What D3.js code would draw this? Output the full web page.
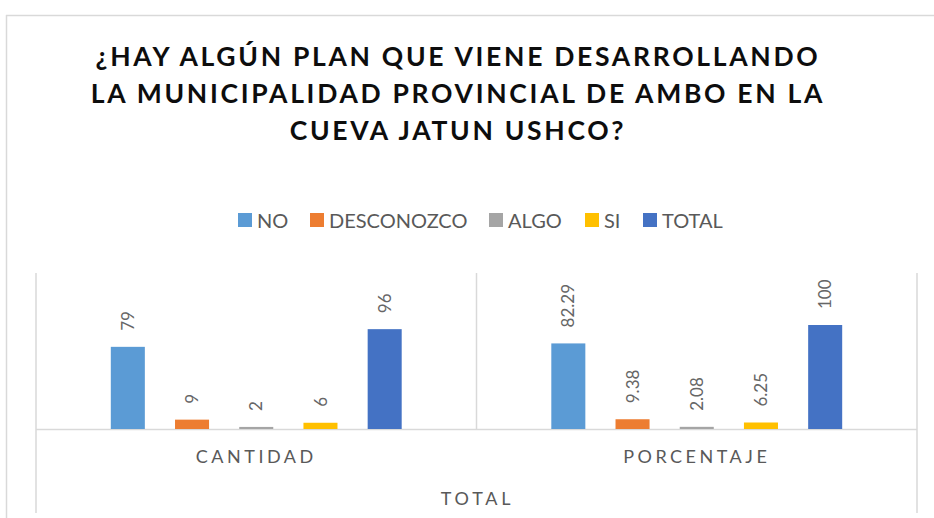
<!DOCTYPE html>
<html>
<head>
<meta charset="utf-8">
<script src="https://cdn.jsdelivr.net/npm/d3@7/dist/d3.min.js"></script>
<style>
  html, body { margin: 0; padding: 0; background: #fff; }
  svg { display: block; font-family: Lato, "Open Sans", sans-serif; }
</style>
</head>
<body>
<div id="chart"></div>
<script>
// Data
var categories = ["CANTIDAD", "PORCENTAJE"];
var seriesNames = ["NO", "DESCONOZCO", "ALGO", "SI", "TOTAL"];
var cantidad = [79, 9, 2, 6, 96];
var porcentaje = [82.29, 9.38, 2.08, 6.25, 100];
var seriesColors = ["#5B9BD5", "#ED7D31", "#A5A5A5", "#FFC000", "#4472C4"];
var titleLines = [
  "¿HAY ALGÚN PLAN QUE VIENE DESARROLLANDO",
  "LA MUNICIPALIDAD PROVINCIAL DE AMBO EN LA",
  "CUEVA JATUN USHCO?"
];
var axisTitle = "TOTAL";

var values = [cantidad, porcentaje];

// Sizes
var width = 934, height = 518;
var plot = {left: 36, right: 917, top: 273, bottom: 429};
var gridColor = "#d9d9d9";
var textColor = "#595959";

var svg = d3.select("#chart").append("svg")
  .attr("width", width)
  .attr("height", height);

// chart frame (only top and left edges are visible)
svg.append("line").attr("x1", 6).attr("x2", width).attr("y1", 15.5).attr("y2", 15.5)
  .attr("stroke", gridColor).attr("stroke-width", 1.5);
svg.append("line").attr("x1", 6.5).attr("x2", 6.5).attr("y1", 15).attr("y2", height)
  .attr("stroke", gridColor).attr("stroke-width", 1.5);

// --- title ---
svg.append("g").selectAll("text")
  .data(titleLines)
  .join("text")
  .attr("x", 458)
  .attr("y", function(d, i) { return 66 + i * 37; })
  .attr("text-anchor", "middle")
  .attr("font-size", 26.5)
  .attr("font-weight", "bold")
  .attr("letter-spacing", 2.7)
  .attr("fill", "#0d0d0d")
  .text(function(d) { return d; });

// --- scales ---
var x0 = d3.scaleBand()
  .domain(categories)
  .range([plot.left, plot.right]);

var x1 = d3.scaleBand()
  .domain(seriesNames)
  .range([0, x0.bandwidth()])
  .paddingInner(0.47)
  .paddingOuter(1.165);

var y = d3.scaleLinear()
  .domain([0, 150])
  .range([plot.bottom, plot.top]);

var color = d3.scaleOrdinal().domain(seriesNames).range(seriesColors);

// --- grid / axis lines ---
var lines = svg.append("g").attr("stroke", gridColor).attr("stroke-width", 1.5);
lines.append("line")
  .attr("x1", plot.left).attr("x2", plot.right)
  .attr("y1", y(0) + 0.5).attr("y2", y(0) + 0.5);
lines.append("line")
  .attr("x1", plot.left).attr("x2", plot.left)
  .attr("y1", plot.top).attr("y2", 513);
lines.append("line")
  .attr("x1", plot.right).attr("x2", plot.right)
  .attr("y1", plot.top).attr("y2", 513);
lines.append("line")
  .attr("x1", x0(categories[1])).attr("x2", x0(categories[1]))
  .attr("y1", plot.top).attr("y2", y(0));

// --- bars ---
var groups = svg.append("g").selectAll("g")
  .data(categories)
  .join("g")
  .attr("transform", function(d) { return "translate(" + x0(d) + ",0)"; });

groups.selectAll("rect")
  .data(function(d, ci) {
    return seriesNames.map(function(s, si) { return {name: s, value: values[ci][si]}; });
  })
  .join("rect")
  .attr("x", function(d) { return x1(d.name); })
  .attr("y", function(d) { return y(d.value); })
  .attr("width", x1.bandwidth())
  .attr("height", function(d) { return y(0) - y(d.value); })
  .attr("fill", function(d) { return color(d.name); });

// data labels, rotated
groups.selectAll("text.lbl")
  .data(function(d, ci) {
    return seriesNames.map(function(s, si) { return {name: s, value: values[ci][si]}; });
  })
  .join("text")
  .attr("class", "lbl")
  .attr("transform", function(d) {
    return "translate(" + (x1(d.name) + x1.bandwidth() / 2) + "," + (y(d.value) - 16) + ") rotate(-90)";
  })
  .attr("dy", "0.36em")
  .attr("font-size", 17)
  .attr("fill", "#666666")
  .text(function(d) { return d.value; });

// --- category axis ---
var xAxis = d3.axisBottom(x0).tickSize(0).tickPadding(21);
var axisG = svg.append("g")
  .attr("transform", "translate(0," + y(0) + ")")
  .call(xAxis);
axisG.select(".domain").remove();
axisG.selectAll("text")
  .attr("font-family", "Lato, sans-serif")
  .attr("font-size", 18)
  .attr("letter-spacing", 3.5)
  .attr("fill", textColor);

svg.append("text")
  .attr("x", (plot.left + plot.right) / 2 + 1)
  .attr("y", 505)
  .attr("text-anchor", "middle")
  .attr("font-size", 18)
  .attr("letter-spacing", 3.8)
  .attr("fill", textColor)
  .text(axisTitle);

// --- legend ---
var legendX = [238, 310, 489, 585, 643];
var legend = svg.append("g").selectAll("g")
  .data(seriesNames)
  .join("g")
  .attr("transform", function(d, i) { return "translate(" + legendX[i] + ",213)"; });
legend.append("rect")
  .attr("width", 14).attr("height", 14)
  .attr("fill", function(d) { return color(d); });
legend.append("text")
  .attr("x", 19)
  .attr("y", 14.5)
  .attr("font-size", 20)
  .attr("fill", textColor)
  .text(function(d) { return d; });
</script>
</body>
</html>
